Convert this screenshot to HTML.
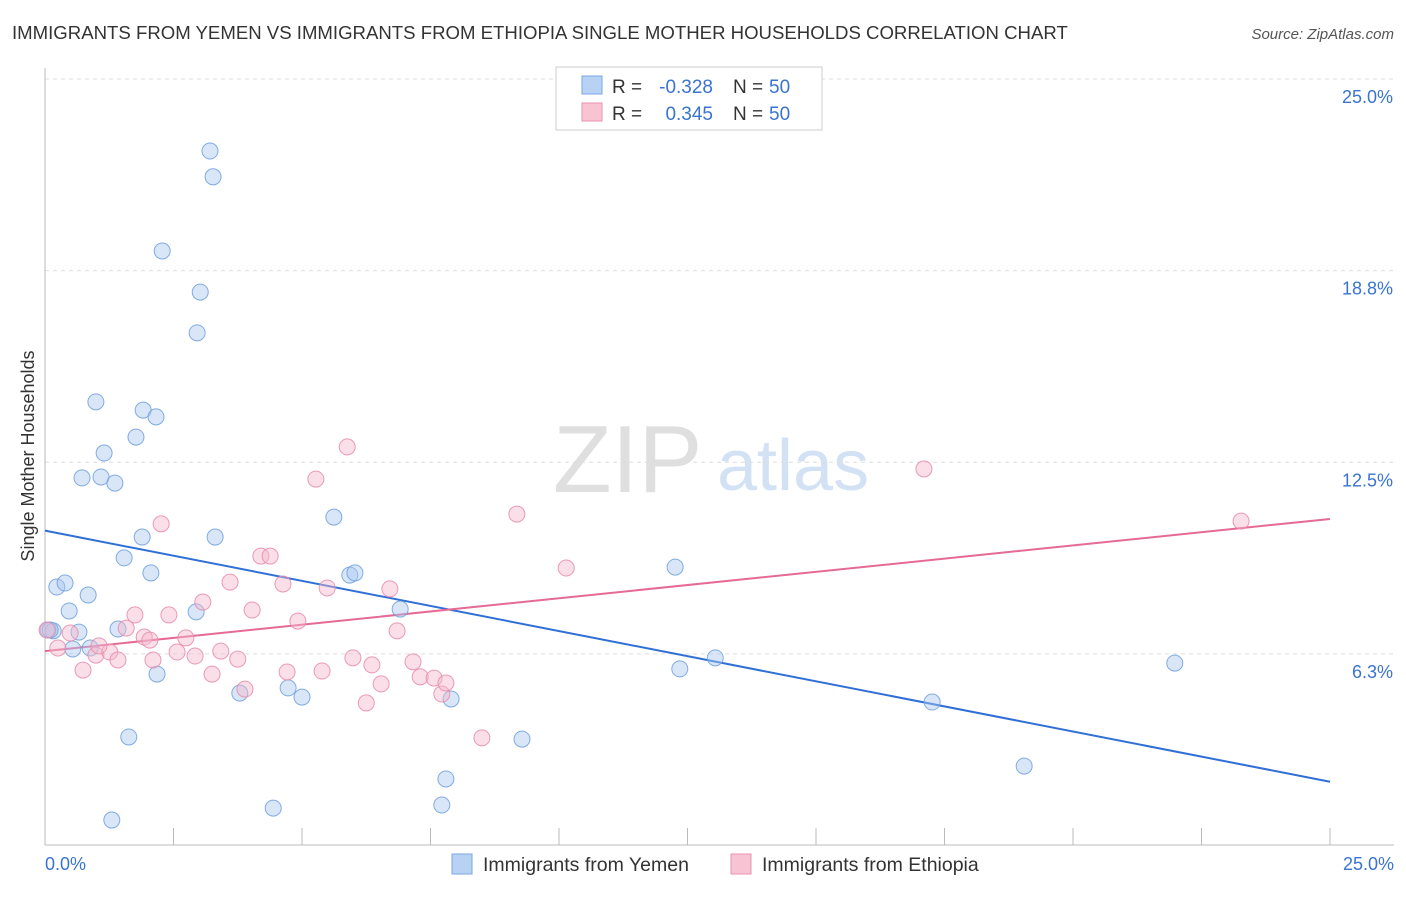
<!DOCTYPE html>
<html><head><meta charset="utf-8"><style>
body{margin:0;background:#fff;font-family:"Liberation Sans",sans-serif;}
svg text{font-family:"Liberation Sans",sans-serif;}
</style></head><body>
<svg id="chart" width="1406" height="892" viewBox="0 0 1406 892" xmlns="http://www.w3.org/2000/svg">
<text x="12" y="39" font-size="18.6" fill="#333">IMMIGRANTS FROM YEMEN VS IMMIGRANTS FROM ETHIOPIA SINGLE MOTHER HOUSEHOLDS CORRELATION CHART</text>
<text x="1394" y="39" font-size="15" fill="#555" text-anchor="end" font-style="italic">Source: ZipAtlas.com</text>
<text x="553" y="492" font-size="96" fill="#d8d8d8" font-family="Liberation Serif" opacity="0.8">ZIP</text>
<text x="717" y="490" font-size="72" fill="#c8dcf2" opacity="0.8">atlas</text>
<text transform="translate(34,456) rotate(-90)" font-size="18" fill="#333" text-anchor="middle">Single Mother Households</text>
<g id="grid"></g><g id="axes"></g><g id="trends"></g><g id="points"></g>
<g>
<rect x="556" y="67" width="266" height="63" fill="#fff" stroke="#ccc"/>
<rect x="582" y="76" width="20" height="18" fill="#b8d2f4" stroke="#7aa8e0"/>
<rect x="582" y="103" width="20" height="18" fill="#f8c4d4" stroke="#e890b0"/>
<text x="612" y="93" font-size="19" fill="#333">R =</text>
<text x="713" y="93" font-size="19" fill="#3a74d0" text-anchor="end">-0.328</text>
<text x="733" y="93" font-size="19" fill="#333">N =</text>
<text x="769" y="93" font-size="19" fill="#3a74d0">50</text>
<text x="612" y="120" font-size="19" fill="#333">R =</text>
<text x="713" y="120" font-size="19" fill="#3a74d0" text-anchor="end">0.345</text>
<text x="733" y="120" font-size="19" fill="#333">N =</text>
<text x="769" y="120" font-size="19" fill="#3a74d0">50</text>
</g>
<g>
<rect x="452" y="854" width="20" height="20" fill="#b8d2f4" stroke="#7aa8e0"/>
<text x="483" y="871" font-size="19.5" fill="#333">Immigrants from Yemen</text>
<rect x="731" y="854" width="20" height="20" fill="#f8c4d4" stroke="#e890b0"/>
<text x="762" y="871" font-size="19.5" fill="#333">Immigrants from Ethiopia</text>
</g>
</svg>
<script>
const yTicks=[25.0,18.75,12.5,6.25];
const yTickLabels=["25.0%","18.8%","12.5%","6.3%"];
const xTicks=[0,2.5,5,7.5,10,12.5,15,17.5,20,22.5,25];
const xEndLabels=["0.0%","25.0%"];
const yemenX=[3.21,3.27,2.28,3.02,2.96,0.99,1.91,2.16,1.77,1.15,0.72,1.09,1.36,5.62,1.89,3.31,1.54,2.06,5.93,6.03,0.23,0.39,0.84,0.47,2.94,6.91,0.06,0.16,0.66,1.42,0.54,0.88,2.18,12.26,12.35,13.04,3.79,4.73,5.00,7.90,17.26,1.63,9.28,19.05,7.80,7.72,4.44,1.30,21.98,0.10];
const yemenY=[22.65,21.81,19.39,18.05,16.72,14.47,14.20,13.98,13.32,12.80,11.99,12.02,11.82,10.71,10.06,10.06,9.38,8.89,8.82,8.89,8.43,8.56,8.17,7.65,7.62,7.71,7.03,7.00,6.96,7.06,6.41,6.44,5.59,9.08,5.76,6.12,4.97,5.14,4.84,4.78,4.68,3.54,3.47,2.59,2.17,1.32,1.22,0.83,5.95,7.03];
const ethX=[0.04,0.25,0.49,0.74,0.99,1.26,1.42,1.58,1.75,1.93,2.10,2.26,2.41,2.57,2.74,2.92,3.07,3.25,3.42,3.60,3.75,3.89,4.03,4.20,4.38,4.63,4.71,4.92,5.27,5.39,5.49,5.88,5.99,6.25,6.36,6.54,6.71,6.85,7.16,7.30,7.57,7.72,7.80,8.50,9.18,10.14,17.10,23.27,2.04,1.05];
const ethY=[7.03,6.44,6.93,5.72,6.21,6.31,6.05,7.09,7.52,6.80,6.05,10.49,7.52,6.31,6.77,6.18,7.94,5.59,6.34,8.59,6.08,5.10,7.68,9.44,9.44,8.53,5.66,7.32,11.95,5.69,8.40,13.00,6.12,4.65,5.89,5.27,8.37,7.00,5.99,5.50,5.46,4.94,5.30,3.51,10.81,9.05,12.28,10.58,6.70,6.51];
const yemenTrend=[10.27,2.08];
const ethTrend=[6.34,10.65];
const NS="http://www.w3.org/2000/svg";
const X0=45,X1=1330,Y0=845.5,YPER=766.5/25;
function sx(v){return X0+(X1-X0)*v/25;}
function sy(v){return Y0-v*YPER;}
function mk(tag,attrs,parent){const e=document.createElementNS(NS,tag);for(const k in attrs)e.setAttribute(k,attrs[k]);document.getElementById(parent).appendChild(e);return e;}
yTicks.forEach((t,i)=>{
 const l=mk('line',{x1:X0,x2:1394,y1:sy(t),y2:sy(t),stroke:'#ddd','stroke-dasharray':'4,4'},'grid');
 
 
 const tx=mk('text',{x:1393,y:sy(t)+24,'font-size':18,fill:'#3a74d0','text-anchor':'end'},'grid');
 tx.textContent=yTickLabels[i];
 
 
});
const ax=mk('line',{x1:X0,x2:1394,y1:845,y2:845,stroke:'#bbb'},'axes');


const ay=mk('line',{x1:X0,x2:X0,y1:68,y2:845,stroke:'#bbb'},'axes');


xTicks.forEach(t=>{
 const l=mk('line',{x1:sx(t),x2:sx(t),y1:828,y2:845,stroke:'#bbb'},'axes');
 
 
});
[[0,'start',45],[25,'end',1394]].forEach((a,i)=>{
 const tx=mk('text',{x:a[2],y:870,'font-size':18,fill:'#3a74d0','text-anchor':a[1]},'axes');
 tx.textContent=xEndLabels[i];
 
 
});
function pts(xs,ys,fill,stroke,name){
 xs.forEach((v,i)=>{
  const c=mk('circle',{cx:sx(v),cy:sy(ys[i]),r:8,fill:fill,'fill-opacity':0.45,stroke:stroke,'stroke-width':1,'stroke-opacity':0.85},'points');
  
  
 });
}
pts(yemenX,yemenY,'#a8c8f0','#6f9fdc','yemen-point');
pts(ethX,ethY,'#f5b8cc','#e88aab','ethiopia-point');
const t1=mk('line',{x1:sx(0),x2:sx(25),y1:sy(yemenTrend[0]),y2:sy(yemenTrend[1]),stroke:'#2f6fd6','stroke-width':2},'trends');


const t2=mk('line',{x1:sx(0),x2:sx(25),y1:sy(ethTrend[0]),y2:sy(ethTrend[1]),stroke:'#e56a95','stroke-width':2},'trends');


</script>
</body></html>
